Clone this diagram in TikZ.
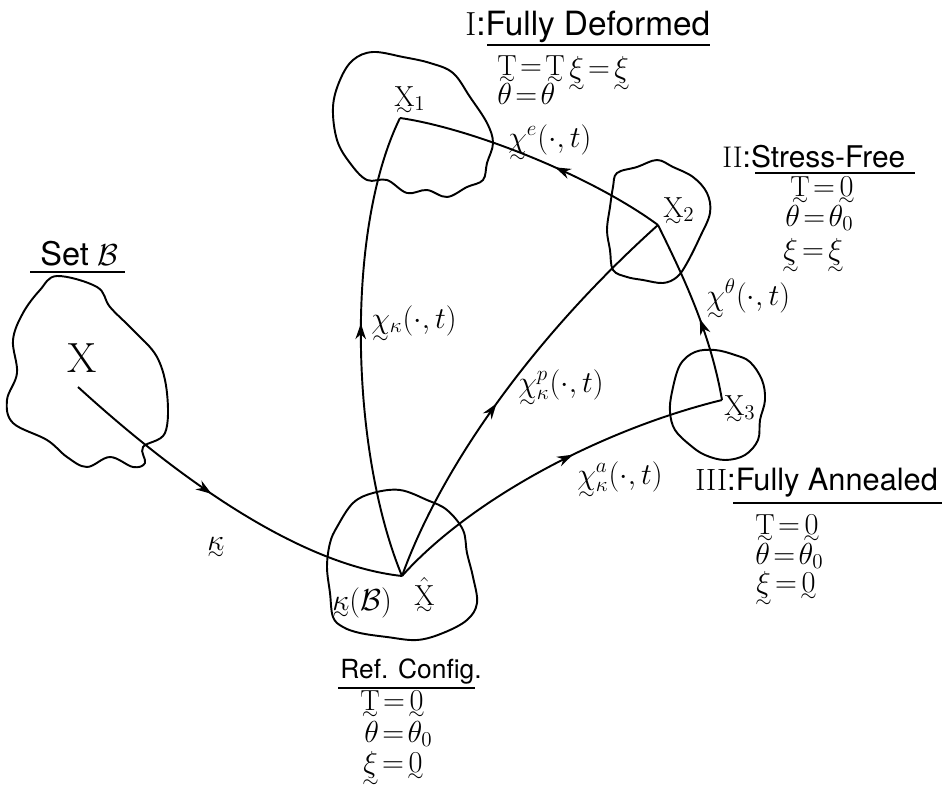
\documentclass[tikz,border=0pt]{standalone}
\usepackage{amsmath}
\usepackage{fontspec}
\setsansfont{TeX Gyre Heros}
\usetikzlibrary{decorations.markings,arrows.meta}
\newcommand{\ut}[1]{\mathord{\vtop{\offinterlineskip\halign{\hfil##\hfil\cr$#1$\cr\noalign{\kern1.0pt}$\scriptstyle\sim$\cr}}}}
\newcommand{\eqs}{\mkern2mu{=}\mkern2mu}
\begin{document}
\begin{tikzpicture}[x=0.02cm,y=-0.02cm,
  blob/.style={line width=1.1pt, line join=round},
  conn/.style={line width=1.1pt},
  arrowat/.style={postaction={decorate},decoration={markings,mark=at position #1 with {\arrow{Stealth[length=9pt,width=6pt]}}}},
  eq/.style={font=\fontsize{16.5}{18}\selectfont, inner sep=0pt, anchor=base west},
  lab/.style={font=\fontsize{16.5}{18}\selectfont, inner sep=0pt, anchor=base west},
  uline/.style={line width=1.6pt}]
\useasboundingbox (0,0) rectangle (947,808);

% ---- blobs ----
\draw[blob] plot[smooth cycle, tension=0.6] coordinates {
 (57,276) (97,287) (110,307) (133,330) (157,357) (167,393) (165,433) (143,447)
 (145,463) (133,467) (110,457) (87,467) (67,457) (47,440) (13,423) (7,400)
 (17,373) (13,340) (23,313) (40,290)};
\draw[blob] plot[smooth cycle, tension=0.6] coordinates {
 (373,52) (403,57) (430,63) (453,73) (470,97) (487,123) (493,143) (487,163)
 (483,180) (467,187) (447,197) (427,190) (407,193) (387,180) (367,180) (350,163)
 (337,140) (333,107) (340,80) (353,60)};
\draw[blob] plot[smooth cycle, tension=0.6] coordinates {
 (617,173) (637,167) (657,160) (673,167) (693,177) (707,193) (710,213) (700,237)
 (687,263) (677,277) (663,283) (643,280) (627,277) (613,270) (610,250) (607,230)
 (610,207) (613,187)};
\draw[blob] plot[smooth cycle, tension=0.6] coordinates {
 (672,392) (680,365) (695,352) (715,350) (735,355) (750,362) (762,380) (765,400)
 (760,420) (758,440) (745,455) (725,460) (705,455) (690,445) (675,430) (670,412)};
\draw[blob] plot[smooth cycle, tension=0.6] coordinates {
 (337,527) (353,503) (373,493) (400,490) (427,500) (447,510) (463,530) (467,553)
 (473,577) (477,603) (467,620) (443,633) (417,640) (387,637) (360,633) (343,627)
 (333,617) (330,593) (327,567) (330,543)};

% ---- points ----
\coordinate (X) at (78,387);
\coordinate (Xh) at (402,576);
\coordinate (X1) at (400,118);
\coordinate (X2) at (658,225);
\coordinate (X3) at (722,400);

% ---- connectors ----
\draw[conn, arrowat=0.45] (X) .. controls (180,480) and (300,565) .. (Xh);
\draw[conn, arrowat=0.55] (Xh) .. controls (350,450) and (345,230) .. (X1);
\draw[conn, arrowat=0.45] (Xh) .. controls (440,470) and (530,340) .. (X2);
\draw[conn, arrowat=0.57] (Xh) .. controls (470,500) and (600,430) .. (X3);
\draw[conn, arrowat=0.42] (X2) .. controls (590,175) and (470,128) .. (X1);
\draw[conn, arrowat=0.45] (X3) .. controls (710,330) and (680,270) .. (X2);

% ---- point labels ----
\node[font=\fontsize{24}{26}\selectfont, anchor=base] (lX) at (82,372) {X};
\node[lab] (lX1) at (394,106) {$\ut{\mathrm{X}}{}_1$};
\node[lab] (lX2) at (663,217) {$\ut{\mathrm{X}}{}_2$};
\node[lab] (lX3) at (724,415) {$\ut{\mathrm{X}}{}_3$};
\node[lab] (lXh) at (414,605) {$\ut{\hat{\mathrm{X}}}$};
\node[lab] (lkB) at (332,610) {$\ut{\kappa}(\mathcal{B})$};

% ---- connector labels ----
\node[lab] (lk) at (207,550) {$\ut{\kappa}$};
\node[lab] (lchk) at (371,328) {$\ut{\chi}{}_\kappa(\cdot,t)$};
\node[lab] (lchp) at (518,392) {$\ut{\chi}{}^{p}_\kappa(\cdot,t)$};
\node[lab] (lcha) at (577,484) {$\ut{\chi}{}^{a}_\kappa(\cdot,t)$};
\node[lab] (lche) at (508,147) {$\ut{\chi}{}^{e}(\cdot,t)$};
\node[lab] (lcht) at (706,305) {$\ut{\chi}{}^{\theta}(\cdot,t)$};

% ---- headings ----
\node[font=\sffamily\fontsize{18.5}{22}\selectfont, inner sep=0pt, anchor=base west] (hS) at (40,265) {Set $\mathcal{B}$};
\draw[uline] (30,272) -- (125,272);

\node[font=\sffamily\fontsize{19}{22}\selectfont, inner sep=0pt, anchor=base west] (hI) at (465,35) {{\rmfamily I}:Fully Deformed};
\draw[uline] (487,45) -- (710,45);
\node[eq] (eI1) at (497,75) {$\ut{\mathrm{T}}\eqs\ut{\mathrm{T}}$};
\node[eq] (eI2) at (568,77) {$\ut{\xi}\eqs\ut{\xi}$};
\node[eq] (eI3) at (497,104) {$\theta\eqs\theta$};

\node[font=\sffamily\fontsize{17}{20}\selectfont, inner sep=0pt, anchor=base west] (hII) at (722,167) {{\rmfamily II}:Stress-Free};
\draw[uline] (755,173) -- (915,173);
\node[eq] (eII1) at (790,196) {$\ut{\mathrm{T}}\eqs\ut{0}$};
\node[eq] (eII2) at (785,226) {$\theta\eqs\theta_0$};
\node[eq] (eII3) at (782,259) {$\ut{\xi}\eqs\ut{\xi}$};

\node[font=\sffamily\fontsize{17.5}{20}\selectfont, inner sep=0pt, anchor=base west] (hIII) at (695,490) {{\rmfamily III}:Fully Annealed};
\draw[uline] (733,503) -- (942,503);
\node[eq] (eIII1) at (755,534) {$\ut{\mathrm{T}}\eqs\ut{0}$};
\node[eq] (eIII2) at (755,564) {$\theta\eqs\theta_0$};
\node[eq] (eIII3) at (755,592) {$\ut{\xi}\eqs\ut{0}$};

\node[font=\sffamily\fontsize{15}{18}\selectfont, inner sep=0pt, anchor=base west] (hR) at (340,678) {Ref. Config.};
\draw[uline] (338,688) -- (475,688);
\node[eq] (eR1) at (360,710) {$\ut{\mathrm{T}}\eqs\ut{0}$};
\node[eq] (eR2) at (364,742) {$\theta\eqs\theta_0$};
\node[eq] (eR3) at (362,772) {$\ut{\xi}\eqs\ut{0}$};
\end{tikzpicture}
\end{document}
